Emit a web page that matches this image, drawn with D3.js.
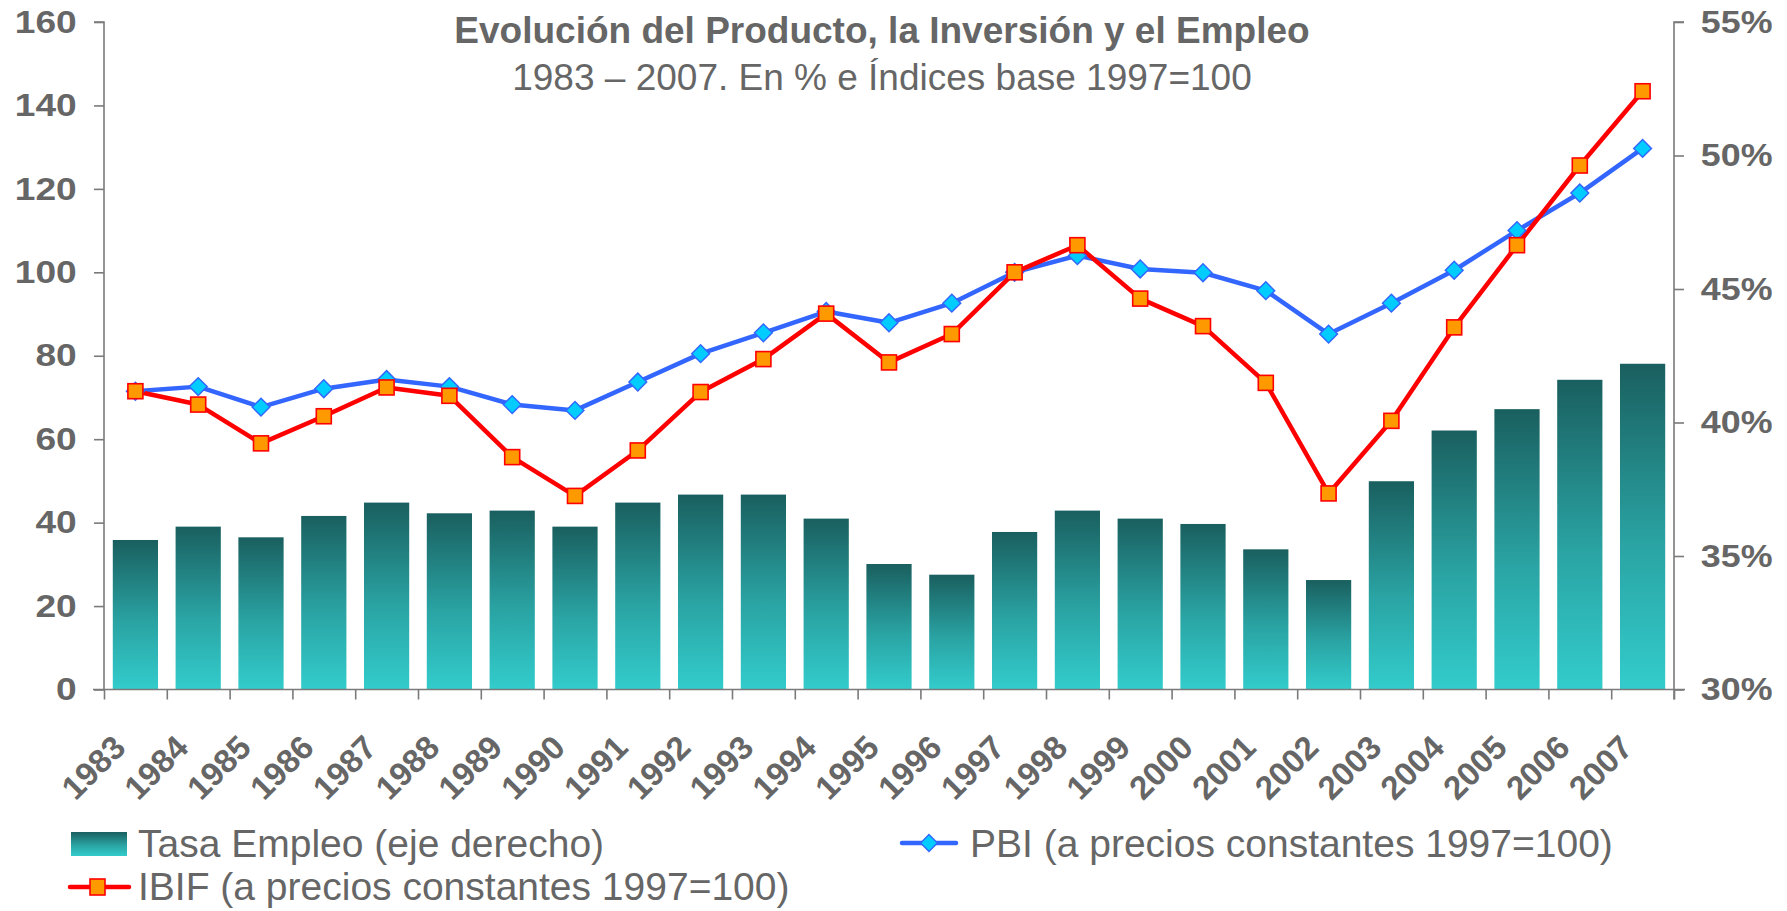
<!DOCTYPE html>
<html lang="es">
<head>
<meta charset="UTF-8">
<title>Evolución del Producto, la Inversión y el Empleo</title>
<script src="https://d3js.org/d3.v7.min.js"></script>
<style>
    body { margin: 0; background: #fff; font-family: Arial, "Liberation Sans", sans-serif; }
    .axis path, .axis line { stroke: #7a7a7a; stroke-width: 1.6px; }
    .axis text { fill: #666; font-weight: bold; font-size: 33px; font-family: Arial, "Liberation Sans", sans-serif; }
</style>
</head>
<body>
<div id="chart"></div>
<script>
    // datos
    const years = ["1983","1984","1985","1986","1987","1988","1989","1990","1991","1992","1993","1994","1995",
                   "1996","1997","1998","1999","2000","2001","2002","2003","2004","2005","2006","2007"];
    // Tasa de empleo (eje derecho), en proporcion
    const empleo = [0.356,0.361,0.357,0.365,0.370,0.366,0.367,0.361,0.370,0.373,0.373,0.364,0.347,
                    0.343,0.359,0.367,0.364,0.362,0.3525,0.341,0.378,0.397,0.405,0.416,0.422];
    const pbi  = [71.5,72.6,67.7,72.1,74.3,72.6,68.3,66.9,73.7,80.5,85.5,90.6,87.9,
                  92.6,100,104.0,100.8,99.9,95.6,85.2,92.6,100.5,110.0,119.0,129.7];
    const ibif = [71.5,68.3,59.0,65.5,72.4,70.4,55.7,46.4,57.3,71.3,79.2,90.1,78.4,
                  85.2,100,106.5,93.7,87.1,73.5,47.0,64.4,86.8,106.5,125.6,143.4];
    const leftTicks = [0,20,40,60,80,100,120,140,160];
    const rightTicks = [0.30,0.35,0.40,0.45,0.50,0.55];

    const W = 1787, H = 911;
    const mLeft = 104, mRight = 1674, mTop = 22, mBottom = 689.5;

    const svg = d3.select("#chart").append("svg")
        .attr("width", W).attr("height", H);

    const defs = svg.append("defs");
    const grad = defs.append("linearGradient")
        .attr("id", "barGrad").attr("x1", 0).attr("y1", 0).attr("x2", 0).attr("y2", 1);
    grad.append("stop").attr("offset", "0%").attr("stop-color", "#1a5f5f");
    grad.append("stop").attr("offset", "55%").attr("stop-color", "#2aa3a3");
    grad.append("stop").attr("offset", "100%").attr("stop-color", "#33cccc");

    const x = d3.scaleBand().domain(years).range([mLeft, mRight])
        .paddingInner(0.28).paddingOuter(0.14);
    const xEdge = d3.scaleLinear().domain([0, years.length]).range([mLeft, mRight]);
    const yL = d3.scaleLinear().domain([0, 160]).range([mBottom, mTop]);
    const yR = d3.scaleLinear().domain([0.30, 0.55]).range([mBottom, mTop]);

    // barras
    svg.append("g").selectAll("rect")
        .data(years)
        .enter().append("rect")
        .attr("x", d => x(d))
        .attr("width", x.bandwidth())
        .attr("y", (d, i) => yR(empleo[i]))
        .attr("height", (d, i) => mBottom - yR(empleo[i]))
        .attr("fill", "url(#barGrad)");

    // ejes (las cifras de los ejes verticales son algo mas anchas)
    svg.append("g").attr("class", "axis")
        .attr("transform", `translate(${mLeft},0)`)
        .call(d3.axisLeft(yL).tickValues(leftTicks).tickSize(10).tickPadding(13.5).tickFormat(d3.format("d")))
        .call(g => g.selectAll("text").style("font-size", "32px").attr("transform", "scale(1.16,1)"))
        .call(g => g.select(".domain").attr("d", `M-10,${mTop}H0V${mBottom}`));

    svg.append("g").attr("class", "axis")
        .attr("transform", `translate(${mRight},0)`)
        .call(d3.axisRight(yR).tickValues(rightTicks).tickSize(10).tickPadding(14).tickFormat(d3.format(".0%")))
        .call(g => g.selectAll("text").style("font-size", "32px").attr("transform", "scale(1.12,1)"))
        .call(g => g.select(".domain").attr("d", `M10,${mTop}H0V${mBottom + 10}`));

    svg.append("g").attr("class", "axis")
        .attr("transform", `translate(0,${mBottom})`)
        .call(d3.axisBottom(xEdge).tickValues(d3.range(years.length + 1)).tickSize(10).tickFormat(""))
        .call(g => g.select(".domain").attr("d", `M${mLeft - 11},0H${mRight + 11}`));

    svg.append("g").attr("class", "axis")
        .selectAll("text")
        .data(years)
        .enter().append("text")
        .attr("text-anchor", "end")
        .attr("transform", d => `translate(${x(d) + x.bandwidth() / 2 - 8},${mBottom + 60}) rotate(-45)`)
        .text(d => d);

    // lineas
    const lineL = d3.line().x((d, i) => x(years[i]) + x.bandwidth() / 2).y(d => yL(d));

    svg.append("path").datum(pbi)
        .attr("d", lineL).attr("fill", "none")
        .attr("stroke", "#3366ff").attr("stroke-width", 4.5).attr("stroke-linejoin", "round");
    svg.append("path").datum(ibif)
        .attr("d", lineL).attr("fill", "none")
        .attr("stroke", "#ff0000").attr("stroke-width", 4.5).attr("stroke-linejoin", "round");

    const diamond = d3.symbol().type(d3.symbolSquare).size(14 * 14);
    svg.append("g").selectAll("path")
        .data(pbi)
        .enter().append("path")
        .attr("d", diamond)
        .attr("transform", (d, i) => `translate(${x(years[i]) + x.bandwidth() / 2},${yL(d)}) rotate(45) scale(0.9)`)
        .attr("fill", "#00ccff").attr("stroke", "#3366ff").attr("stroke-width", 1.6);

    svg.append("g").selectAll("rect")
        .data(ibif)
        .enter().append("rect")
        .attr("x", (d, i) => x(years[i]) + x.bandwidth() / 2 - 7.5)
        .attr("y", d => yL(d) - 7.5)
        .attr("width", 15).attr("height", 15)
        .attr("fill", "#ff9900").attr("stroke", "#ff0000").attr("stroke-width", 1.6);

    // titulos
    svg.append("text")
        .attr("x", 882).attr("y", 43)
        .attr("text-anchor", "middle")
        .style("font-size", "37px").style("font-weight", "bold").style("fill", "#666")
        .text("Evolución del Producto, la Inversión y el Empleo");
    svg.append("text")
        .attr("x", 882).attr("y", 90)
        .attr("text-anchor", "middle")
        .style("font-size", "37px").style("fill", "#666")
        .text("1983 – 2007. En % e Índices base 1997=100");

    // leyenda
    const legend = svg.append("g").style("font-size", "39px").style("fill", "#666");

    legend.append("rect")
        .attr("x", 71).attr("y", 832).attr("width", 56).attr("height", 24)
        .attr("fill", "url(#barGrad)");
    legend.append("text").attr("x", 138).attr("y", 857).text("Tasa Empleo (eje derecho)");

    legend.append("line")
        .attr("x1", 70).attr("x2", 129).attr("y1", 887).attr("y2", 887)
        .attr("stroke", "#ff0000").attr("stroke-width", 4.5).attr("stroke-linecap", "round");
    legend.append("rect")
        .attr("x", 90).attr("y", 879).attr("width", 15).attr("height", 16)
        .attr("fill", "#ff9900").attr("stroke", "#ff0000").attr("stroke-width", 1.6);
    legend.append("text").attr("x", 138).attr("y", 900).text("IBIF (a precios constantes 1997=100)");

    legend.append("line")
        .attr("x1", 902).attr("x2", 956).attr("y1", 843).attr("y2", 843)
        .attr("stroke", "#3366ff").attr("stroke-width", 4.5).attr("stroke-linecap", "round");
    legend.append("path")
        .attr("d", diamond)
        .attr("transform", "translate(929,843) rotate(45) scale(0.85)")
        .attr("fill", "#00ccff").attr("stroke", "#3366ff").attr("stroke-width", 1.6);
    legend.append("text").attr("x", 970).attr("y", 857).text("PBI (a precios constantes 1997=100)");
</script>
</body>
</html>
